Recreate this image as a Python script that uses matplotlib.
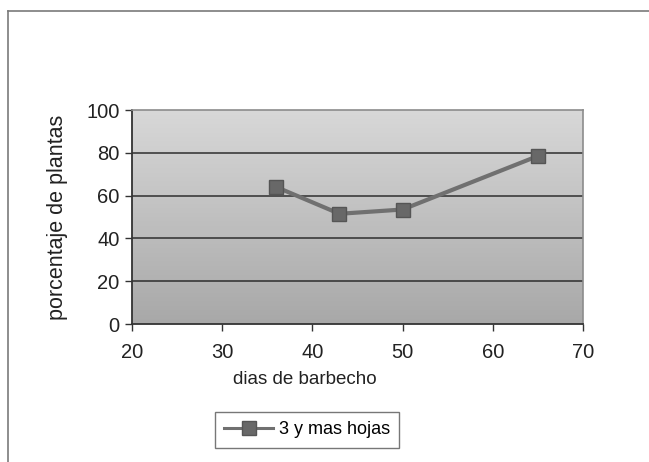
import numpy as np
import matplotlib
matplotlib.use("Agg")
import matplotlib.pyplot as plt
from matplotlib.lines import Line2D

# Días de barbecho vs porcentaje de plantas con 3 o más hojas
dias = [36, 43, 50, 65]
porcentaje = [64, 51.5, 53.5, 78.5]
serie = "3 y mas hojas"
x_ticks = [20, 30, 40, 50, 60, 70]
y_ticks = [0, 20, 40, 60, 80, 100]

plt.rcParams["font.family"] = ["Liberation Sans", "DejaVu Sans"]

W, H = 649, 462
fig = plt.figure(figsize=(W / 100, H / 100), dpi=100)
fig.patch.set_facecolor("white")

# chart-area frame: only the left and top edges fall inside the page
fx, fy = 8 / W, 1 - 11 / H
fig.add_artist(Line2D([fx, fx], [0, fy], transform=fig.transFigure,
                      color="#7a7a7a", linewidth=1.2))
fig.add_artist(Line2D([fx, 1], [fy, fy], transform=fig.transFigure,
                      color="#7a7a7a", linewidth=1.2))

left, right, top, bottom = 132, 583, 110, 324
ax = fig.add_axes([left / W, 1 - bottom / H, (right - left) / W, (bottom - top) / H])

# gradient fill of the plot area
grad = np.linspace(0, 1, 256).reshape(-1, 1)
ax.imshow(grad, extent=[20, 70, 0, 100], aspect="auto", origin="upper",
          cmap=matplotlib.colors.LinearSegmentedColormap.from_list("g", ["#d8d8d8", "#a8a8a8"]),
          zorder=0)

ax.set_xlim(20, 70)
ax.set_ylim(0, 100)
ax.set_xticks(x_ticks)
ax.set_yticks(y_ticks)
for y in y_ticks[1:-1]:
    ax.axhline(y, color="#2e2e2e", linewidth=1.1, zorder=1)

ax.plot(dias, porcentaje, color="#707070", linewidth=3, marker="s", markersize=10.5,
        markerfacecolor="#686868", markeredgecolor="#555555", zorder=3)

for side in ["top", "right"]:
    ax.spines[side].set_color("#8c8c8c")
    ax.spines[side].set_linewidth(1.2)
for side in ["left", "bottom"]:
    ax.spines[side].set_color("#333333")
    ax.spines[side].set_linewidth(1.3)

ax.tick_params(axis="both", direction="out", length=5, width=1, color="#333333",
               labelsize=14.5, labelcolor="#222222")
ax.tick_params(axis="x", pad=9)
ax.tick_params(axis="y", pad=4)

fig.text(57 / W, 1 - 217 / H, "porcentaje de plantas", rotation=90, ha="center", va="center",
         fontsize=15.5, color="#222222")
fig.text(305 / W, 1 - 379 / H, "dias de barbecho", ha="center", va="center",
         fontsize=13.5, color="#222222")

handle = Line2D([], [], color="#707070", linewidth=2.2, marker="s", markersize=10,
                markerfacecolor="#686868", markeredgecolor="#555555")
leg = fig.legend([handle], [serie], loc="center", bbox_to_anchor=(307 / W, 1 - 430 / H),
                 frameon=True, fancybox=False, fontsize=13, handlelength=2.7,
                 handletextpad=0.3, borderpad=0.5, edgecolor="#555555")
leg.get_frame().set_linewidth(1.0)

fig.savefig("out.png", dpi=100)
